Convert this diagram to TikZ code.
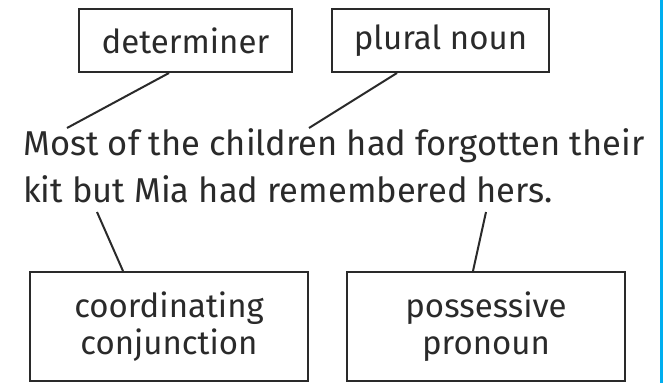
\documentclass[tikz,border=0pt]{standalone}
\usepackage{fontspec}
\setmainfont{Fira Sans}
\definecolor{ink}{HTML}{2A2A2A}
\definecolor{edge}{HTML}{00AEEF}
\begin{document}
\begin{tikzpicture}[x=1pt,y=-1pt,
  box/.style={draw=ink, line width=2pt, inner sep=0pt, text=ink, align=center,
    font=\fontsize{33}{37}\selectfont},
  sent/.style={anchor=base west, inner sep=0pt, text=ink, font=\fontsize{34.5}{40}\selectfont},
  link/.style={draw=ink, line width=2pt}]
\useasboundingbox (0,0) rectangle (663,383);
\fill[white] (0,0) rectangle (663,383);
\fill[edge] (659.5,0) rectangle (663,383);
\node[box, minimum width=213pt, minimum height=63pt] (det) at (185.5,40.5) {determiner};
\node[box, minimum width=217pt, minimum height=63pt] (pl) at (440.5,40.5) {plural noun};
\node[box, minimum width=278pt, minimum height=109pt] (cc) at (169,326.5) {coordinating\\conjunction};
\node[box, minimum width=278pt, minimum height=109pt] (pp) at (486,326.5) {possessive\\pronoun};
\node[sent] (s1) at (23,155) {Most of the children had forgotten their};
\node[sent] (s2) at (23,202) {kit but Mia had remembered hers.};
\coordinate (d1) at (67,128);
\coordinate (p1) at (309,128);
\coordinate (c1) at (97,212);
\coordinate (q1) at (486,212);
\draw[link] ([xshift=-16.5pt]det.south) -- (d1);
\draw[link] ([xshift=-43.5pt]pl.south) -- (p1);
\draw[link] (c1) -- ([xshift=-46pt]cc.north);
\draw[link] (q1) -- ([xshift=-13pt]pp.north);
\end{tikzpicture}
\end{document}
